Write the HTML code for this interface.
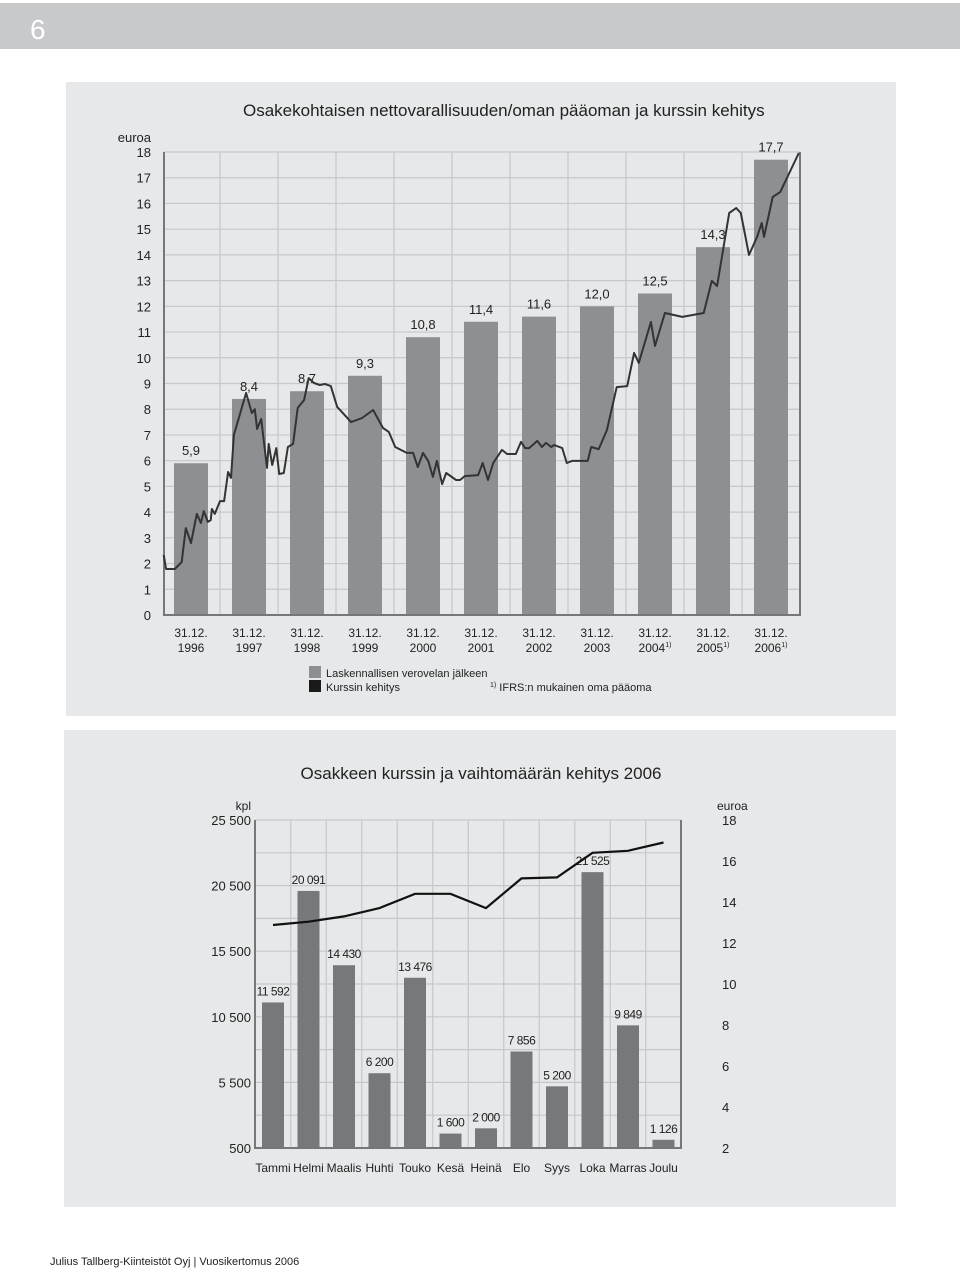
<!DOCTYPE html>
<html><head><meta charset="utf-8"><style>
body{margin:0;background:#fff;}
svg{display:block;font-family:"Liberation Sans Narrow","Liberation Sans",sans-serif;}
</style></head><body>
<svg id="pg" width="960" height="1270" viewBox="0 0 960 1270" xmlns="http://www.w3.org/2000/svg">
<rect x="0" y="3" width="960" height="46" fill="#c8c9cb"/>
<text x="30" y="39" font-size="28" fill="#fff">6</text>
<rect x="66" y="82" width="830" height="634" fill="#e7e8e9"/>
<text x="243" y="116" font-size="17" fill="#222">Osakekohtaisen nettovarallisuuden/oman pääoman ja kurssin kehitys</text>
<text x="151" y="142" font-size="13" fill="#222" text-anchor="end">euroa</text>
<g id="c1"></g>
<g>
<rect x="309" y="666" width="12" height="12" fill="#8e8f93"/>
<text x="326" y="677" font-size="11" fill="#222">Laskennallisen verovelan jälkeen</text>
<rect x="309" y="680" width="12" height="12" fill="#1a1a1a"/>
<text x="326" y="691" font-size="11" fill="#222">Kurssin kehitys</text>
<text x="490" y="691" font-size="11" fill="#222"><tspan font-size="7" dy="-4">1)</tspan><tspan dy="4"> IFRS:n mukainen oma pääoma</tspan></text>
</g>
<rect x="64" y="730" width="832" height="477" fill="#e7e8e9"/>
<text x="481" y="779" font-size="17" fill="#222" text-anchor="middle">Osakkeen kurssin ja vaihtomäärän kehitys 2006</text>
<text x="251" y="810" font-size="12" fill="#222" text-anchor="end">kpl</text>
<text x="717" y="810" font-size="12" fill="#222">euroa</text>
<g id="c2"></g>
<text x="50" y="1265" font-size="11" fill="#222">Julius Tallberg-Kiinteistöt Oyj  |  Vuosikertomus 2006</text>
</svg>
<script>
// Chart 1 data
const years = ["1996","1997","1998","1999","2000","2001","2002","2003","2004","2005","2006"];
const yearNotes = ["","","","","","","","","1)","1)","1)"];
const navValues = [5.9,8.4,8.7,9.3,10.8,11.4,11.6,12.0,12.5,14.3,17.7];
const navLabels = ["5,9","8,4","8,7","9,3","10,8","11,4","11,6","12,0","12,5","14,3","17,7"];
const yTicks1 = [0,1,2,3,4,5,6,7,8,9,10,11,12,13,14,15,16,17,18];
const priceT = [-0.47,-0.43,-0.28,-0.16,-0.09,0,0.10,0.17,0.22,0.29,0.34,0.36,0.41,0.50,0.57,0.64,0.69,0.74,0.95,1.05,1.10,1.14,1.21,1.31,1.34,1.40,1.47,1.52,1.60,1.67,1.76,1.84,1.95,2.03,2.12,2.22,2.31,2.41,2.52,2.76,2.95,3.14,3.31,3.41,3.52,3.72,3.83,3.91,4.00,4.09,4.17,4.24,4.33,4.40,4.57,4.64,4.72,4.95,5.03,5.12,5.21,5.36,5.45,5.60,5.69,5.76,5.83,5.97,6.05,6.12,6.21,6.26,6.40,6.48,6.57,6.84,6.90,7.03,7.17,7.34,7.52,7.64,7.72,7.93,8.00,8.17,8.47,8.84,8.98,9.07,9.28,9.40,9.48,9.62,9.76,9.84,9.88,10.03,10.16,10.48];
const priceV = [2.33,1.79,1.79,2.06,3.38,2.80,3.93,3.58,4.04,3.62,3.69,4.12,3.93,4.43,4.43,5.56,5.33,7.0,8.63,7.85,8.0,7.23,7.62,5.72,6.65,5.83,6.49,5.48,5.52,6.53,6.65,8.05,8.36,9.21,9.02,8.94,8.98,8.90,8.09,7.50,7.66,7.97,7.27,7.12,6.53,6.30,6.30,5.75,6.30,5.99,5.37,5.99,5.09,5.52,5.25,5.25,5.40,5.44,5.91,5.25,5.91,6.42,6.26,6.26,6.73,6.49,6.49,6.77,6.53,6.69,6.53,6.61,6.49,5.91,5.99,5.99,6.53,6.45,7.19,8.86,8.90,10.19,9.80,11.39,10.46,11.74,11.59,11.74,12.99,12.79,15.63,15.82,15.63,14.0,14.70,15.24,14.70,16.25,16.45,17.96];
// Chart 2 data
const months = ["Tammi","Helmi","Maalis","Huhti","Touko","Kesä","Heinä","Elo","Syys","Loka","Marras","Joulu"];
const volumes = [11592,20091,14430,6200,13476,1600,2000,7856,5200,21525,9849,1126];
const volumeLabels = ["11 592","20 091","14 430","6 200","13 476","1 600","2 000","7 856","5 200","21 525","9 849","1 126"];
const monthPrice = [12.88,13.04,13.3,13.7,14.4,14.4,13.7,15.15,15.2,16.4,16.5,16.9];
const leftTicks = [500,5500,10500,15500,20500,25500];
const leftTickLabels = ["500","5 500","10 500","15 500","20 500","25 500"];
const rightTicks = [2,4,6,8,10,12,14,16,18];

const NS="http://www.w3.org/2000/svg";
function mk(parent,tag,attrs,txt){const e=document.createElementNS(NS,tag);for(const k in attrs)e.setAttribute(k,attrs[k]);if(txt!==undefined)e.textContent=txt;parent.appendChild(e);return e;}

// ---- chart 1
const c1=document.getElementById('c1');
const L1=164,R1=800,T1=152,B1=615;
const x1=t=>191+58*t;
const y1=v=>B1-(B1-T1)*v/18;
yTicks1.forEach(v=>{
  const g=mk(c1,'line',{x1:L1,x2:R1,y1:y1(v),y2:y1(v),stroke:'#c6c7c9','stroke-width':1.2});
  
  
  const t=mk(c1,'text',{x:151,y:y1(v)+5,'font-size':13,fill:'#222','text-anchor':'end'},String(v));
  
  
});
for(let i=0;i<years.length-1;i++){
  const g=mk(c1,'line',{x1:x1(i+0.5),x2:x1(i+0.5),y1:T1,y2:B1,stroke:'#c6c7c9','stroke-width':1.2});
  
  
}
navValues.forEach((v,i)=>{
  const b=mk(c1,'rect',{x:x1(i)-17,y:y1(v),width:34,height:B1-y1(v),fill:'#8e8f93'});
  
  
  const t=mk(c1,'text',{x:x1(i),y:y1(v)-8,'font-size':13,fill:'#222','text-anchor':'middle'},navLabels[i]);
  
  
  const a=mk(c1,'text',{x:x1(i),y:637,'font-size':12,fill:'#222','text-anchor':'middle'},'31.12.');
  
  
  const b2=mk(c1,'text',{x:x1(i),y:652,'font-size':12,fill:'#222','text-anchor':'middle'},years[i]);
  
  
  if(yearNotes[i]){const s=mk(b2,'tspan',{'font-size':7,dy:-5},yearNotes[i]);}
});
const ax1=mk(c1,'polyline',{points:`${L1},${T1} ${L1},${B1} ${R1},${B1} ${R1},${T1}`,fill:'none',stroke:'#777','stroke-width':2});


const pl=mk(c1,'polyline',{points:priceT.map((t,i)=>x1(t).toFixed(1)+','+y1(priceV[i]).toFixed(1)).join(' '),fill:'none',stroke:'#333','stroke-width':2,'stroke-linejoin':'round'});



// ---- chart 2
const c2=document.getElementById('c2');
const L2=255,R2=681,T2=820,B2=1148;
const x2=i=>273+35.5*i;
const yl=v=>B2-(B2-T2)*(v-500)/25000;
const yr=v=>B2-(B2-T2)*(v-2)/16;
for(let k=0;k<=10;k++){
  const v=500+2500*k;
  const g=mk(c2,'line',{x1:L2,x2:R2,y1:yl(v),y2:yl(v),stroke:'#c6c7c9','stroke-width':1.2});
  
  
}
for(let i=0;i<months.length-1;i++){
  const g=mk(c2,'line',{x1:x2(i+0.5),x2:x2(i+0.5),y1:T2,y2:B2,stroke:'#c6c7c9','stroke-width':1.2});
  
  
}
leftTicks.forEach((v,i)=>{
  const t=mk(c2,'text',{x:251,y:yl(v)+5,'font-size':13,fill:'#222','text-anchor':'end'},leftTickLabels[i]);
  
  
});
rightTicks.forEach(v=>{
  const t=mk(c2,'text',{x:722,y:yr(v)+5,'font-size':13,fill:'#222'},String(v));
  
  
});
volumes.forEach((v,i)=>{
  const b=mk(c2,'rect',{x:x2(i)-11,y:yl(v),width:22,height:B2-yl(v),fill:'#77787c'});
  
  
  const t=mk(c2,'text',{x:x2(i),y:yl(v)-7,'font-size':12,fill:'#222','text-anchor':'middle','letter-spacing':'-0.5'},volumeLabels[i]);
  
  
  const m=mk(c2,'text',{x:x2(i),y:1172,'font-size':12,fill:'#222','text-anchor':'middle'},months[i]);
  
  
});
const ax2=mk(c2,'polyline',{points:`${L2},${T2} ${L2},${B2} ${R2},${B2} ${R2},${T2}`,fill:'none',stroke:'#777','stroke-width':2});


const pl2=mk(c2,'polyline',{points:monthPrice.map((v,i)=>x2(i).toFixed(1)+','+yr(v).toFixed(1)).join(' '),fill:'none',stroke:'#111','stroke-width':2.2});


</script>
</body></html>
